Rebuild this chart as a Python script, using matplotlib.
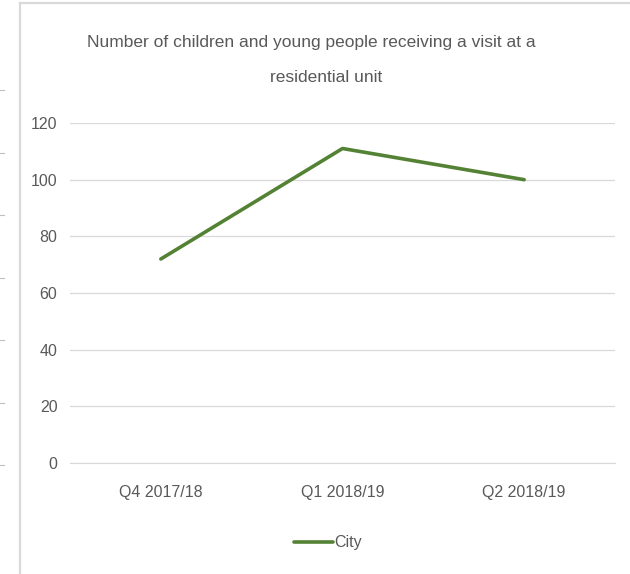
import matplotlib.pyplot as plt
from matplotlib import font_manager
from matplotlib.lines import Line2D

quarters = ["Q4 2017/18", "Q1 2018/19", "Q2 2018/19"]
city = [72, 111, 100]
y_ticks = [0, 20, 40, 60, 80, 100, 120]

names = {f.name for f in font_manager.fontManager.ttflist}
narrow = "Liberation Sans Narrow" if "Liberation Sans Narrow" in names else "Liberation Sans"
plt.rcParams["font.family"] = [narrow, "DejaVu Sans"]

text_grey = "#595959"
grid_grey = "#d9d9d9"
green = "#548235"

fig = plt.figure(figsize=(6.3, 5.74), dpi=100)
W, H = 630, 574

# frame of the chart box and stray ticks on the left
fig.add_artist(Line2D([20 / W, 20 / W], [0, 1 - 3 / H], color=grid_grey, lw=1.6))
fig.add_artist(Line2D([20 / W, 1], [1 - 3 / H, 1 - 3 / H], color=grid_grey, lw=1.6))
for yp in [90, 153, 215, 278, 340, 403, 465]:
    fig.add_artist(Line2D([0, 4 / W], [1 - yp / H, 1 - yp / H], color="#bfbfbf", lw=0.8))

ax = fig.add_axes([70 / W, 1 - 463 / H, 545 / W, 340 / H])
x = list(range(len(quarters)))
ax.plot(x, city, color=green, lw=2.6, solid_capstyle="round", label="City")

ax.set_xlim(-0.5, len(quarters) - 0.5)
ax.set_ylim(0, 120)
ax.set_yticks(y_ticks)
ax.set_xticks(x)
ax.set_xticklabels(quarters)
ax.yaxis.grid(True, color=grid_grey, lw=0.9)
ax.set_axisbelow(True)
for s in ax.spines.values():
    s.set_visible(False)
ax.spines["bottom"].set_visible(True)
ax.spines["bottom"].set_color(grid_grey)
ax.tick_params(length=0, labelsize=11.5, colors=text_grey)
ax.tick_params(axis="x", pad=16)
ax.tick_params(axis="y", pad=9)

fig.text(311 / W, 1 - 43 / H,
         "Number of children and young people receiving a visit at a",
         ha="center", va="center", fontsize=12.5, color=text_grey)
fig.text(326 / W, 1 - 77 / H, "residential unit",
         ha="center", va="center", fontsize=12.5, color=text_grey)

leg = fig.legend(loc="center", bbox_to_anchor=(328 / W, 1 - 543 / H), frameon=False,
                 fontsize=11.5, handlelength=2.4, handletextpad=0.1, labelcolor=text_grey)

fig.savefig("out.png", dpi=100)
